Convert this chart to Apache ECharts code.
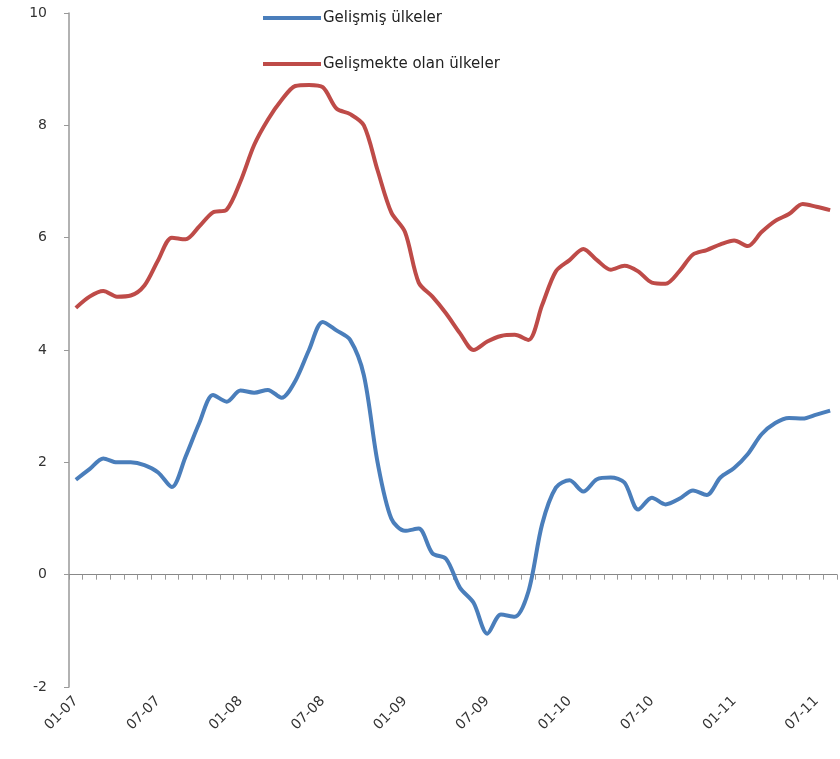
<!DOCTYPE html>
<html>
<head>
<meta charset="utf-8">
<script src="https://cdn.jsdelivr.net/npm/echarts@6/dist/echarts.min.js"></script>
<style>
  html, body { margin: 0; padding: 0; background: #fff; }
  #chart { width: 840px; height: 759px; }
</style>
</head>
<body>
<div id="chart"></div>
<script>
// aylar: 01-07 .. 08-11
const months = [];
for (let y = 7; y <= 11; y++) {
  for (let m = 1; m <= 12; m++) {
    if (y === 11 && m > 8) break;
    months.push(String(m).padStart(2, '0') + '-' + String(y).padStart(2, '0'));
  }
}

const gelismis = [
  1.69, 1.88, 2.07, 2.0, 2.0, 1.95, 1.82, 1.56, 2.1, 2.7, 3.2, 3.08,
  3.28, 3.24, 3.29, 3.15, 3.45, 4.0, 4.5, 4.35, 4.18, 3.55, 2.0, 1.0,
  0.78, 0.82, 0.38, 0.28, -0.23, -0.5, -1.05, -0.71, -0.75, -0.3, 0.9, 1.55,
  1.68, 1.48, 1.7, 1.73, 1.64, 1.16, 1.37, 1.25, 1.35, 1.5, 1.42, 1.73,
  1.9, 2.15, 2.5, 2.7, 2.79, 2.78, 2.85, 2.92
];

const gelismekte = [
  4.75, 4.95, 5.05, 4.95, 4.97, 5.15, 5.6, 6.0, 5.97, 6.2, 6.45, 6.5,
  7.0, 7.65, 8.1, 8.45, 8.7, 8.72, 8.68, 8.3, 8.2, 8.0, 7.2, 6.45,
  6.1, 5.2, 4.95, 4.65, 4.3, 4.0, 4.15, 4.25, 4.27, 4.18, 4.8, 5.4,
  5.6, 5.8, 5.6, 5.43, 5.5, 5.4, 5.2, 5.18, 5.4, 5.7, 5.78, 5.88,
  5.95, 5.85, 6.1, 6.3, 6.42, 6.6, 6.55, 6.49
];

const option = {
  animation: false,
  backgroundColor: '#fff',
  textStyle: { fontFamily: 'DejaVu Sans' },
  grid: { left: 69, right: 3, top: 13, bottom: 72 },
  legend: {
    orient: 'vertical',
    left: 258,
    top: 4,
    itemWidth: 58,
    itemHeight: 4,
    itemGap: 28,
    icon: 'rect',
    textStyle: { fontSize: 15, color: '#222', lineHeight: 18, padding: [0, 0, 0, -3] },
    data: ['Gelişmiş ülkeler', 'Gelişmekte olan ülkeler']
  },
  xAxis: [
    {
      // etiketler altta
      type: 'category',
      data: months,
      position: 'bottom',
      axisLine: { show: false, onZero: false },
      axisTick: { show: false },
      axisLabel: {
        interval: 5,
        rotate: 45,
        margin: 12,
        fontSize: 14,
        color: '#333'
      }
    },
    {
      // sıfır çizgisi ve aylık çentikler
      type: 'category',
      data: months,
      position: 'bottom',
      axisLine: { show: true, onZero: true, lineStyle: { color: '#888', width: 1 } },
      axisTick: { show: true, interval: 0, length: 5, lineStyle: { color: '#999' } },
      axisLabel: { show: false }
    }
  ],
  yAxis: {
    type: 'value',
    min: -2,
    max: 10,
    interval: 2,
    axisLine: { show: true, lineStyle: { color: '#999', width: 1.5 } },
    axisTick: { show: true, length: 5, lineStyle: { color: '#999' } },
    splitLine: { show: false },
    axisLabel: { fontSize: 14, color: '#333', margin: 22 }
  },
  series: [
    {
      name: 'Gelişmiş ülkeler',
      type: 'line',
      xAxisIndex: 0,
      data: gelismis,
      smooth: 0.3,
      showSymbol: false,
      color: '#4a7ebb',
      lineStyle: { width: 4 }
    },
    {
      name: 'Gelişmekte olan ülkeler',
      type: 'line',
      xAxisIndex: 0,
      data: gelismekte,
      smooth: 0.3,
      showSymbol: false,
      color: '#be4b48',
      lineStyle: { width: 4 }
    }
  ]
};

const E = echarts.init(document.getElementById('chart'));
E.setOption(option);
</script>
</body>
</html>
